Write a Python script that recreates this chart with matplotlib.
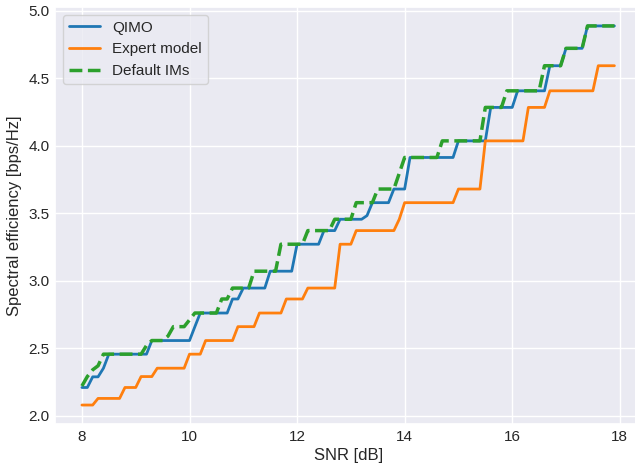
#spectral efficiency vs SNR plot

#imports
import numpy as np
import matplotlib
matplotlib.use("Agg")
import matplotlib.pyplot as plt
import seaborn as sns

#data (SNR grid of the simulation, 0.1 dB steps)
snr_db = np.round(np.arange(8.0, 18.0, 0.1), 1)

#one row per dB: x.0 ... x.9
qimo = [
    2.209, 2.209, 2.288, 2.288, 2.352, 2.456, 2.456, 2.456, 2.456, 2.456,
    2.456, 2.456, 2.456, 2.557, 2.557, 2.557, 2.557, 2.557, 2.557, 2.557,
    2.557, 2.660, 2.761, 2.761, 2.761, 2.761, 2.761, 2.761, 2.865, 2.865,
    2.946, 2.946, 2.946, 2.946, 2.946, 3.071, 3.071, 3.071, 3.071, 3.071,
    3.271, 3.271, 3.271, 3.271, 3.271, 3.372, 3.372, 3.372, 3.456, 3.456,
    3.456, 3.456, 3.456, 3.483, 3.579, 3.579, 3.579, 3.579, 3.680, 3.680,
    3.680, 3.914, 3.914, 3.914, 3.914, 3.914, 3.914, 3.914, 3.914, 3.914,
    4.037, 4.037, 4.037, 4.037, 4.037, 4.037, 4.285, 4.285, 4.285, 4.285,
    4.285, 4.408, 4.408, 4.408, 4.408, 4.408, 4.408, 4.594, 4.594, 4.594,
    4.723, 4.723, 4.723, 4.723, 4.889, 4.889, 4.889, 4.889, 4.889, 4.889,
]

expert = [
    2.079, 2.079, 2.079, 2.128, 2.128, 2.128, 2.128, 2.128, 2.209, 2.209,
    2.209, 2.290, 2.290, 2.290, 2.352, 2.352, 2.352, 2.352, 2.352, 2.352,
    2.456, 2.456, 2.456, 2.557, 2.557, 2.557, 2.557, 2.557, 2.557, 2.660,
    2.660, 2.660, 2.660, 2.761, 2.761, 2.761, 2.761, 2.761, 2.865, 2.865,
    2.865, 2.865, 2.946, 2.946, 2.946, 2.946, 2.946, 2.946, 3.271, 3.271,
    3.271, 3.372, 3.372, 3.372, 3.372, 3.372, 3.372, 3.372, 3.372, 3.456,
    3.579, 3.579, 3.579, 3.579, 3.579, 3.579, 3.579, 3.579, 3.579, 3.579,
    3.680, 3.680, 3.680, 3.680, 3.680, 4.037, 4.037, 4.037, 4.037, 4.037,
    4.037, 4.037, 4.037, 4.285, 4.285, 4.285, 4.285, 4.408, 4.408, 4.408,
    4.408, 4.408, 4.408, 4.408, 4.408, 4.408, 4.594, 4.594, 4.594, 4.594,
]

default_ims = [
    2.220, 2.290, 2.340, 2.370, 2.456, 2.456, 2.456, 2.456, 2.456, 2.456,
    2.456, 2.456, 2.520, 2.557, 2.557, 2.557, 2.590, 2.660, 2.660, 2.660,
    2.710, 2.761, 2.761, 2.761, 2.761, 2.761, 2.865, 2.865, 2.946, 2.946,
    2.946, 2.946, 3.071, 3.071, 3.071, 3.071, 3.071, 3.271, 3.271, 3.271,
    3.271, 3.271, 3.372, 3.372, 3.372, 3.372, 3.372, 3.456, 3.456, 3.456,
    3.456, 3.579, 3.579, 3.579, 3.579, 3.680, 3.680, 3.680, 3.680, 3.797,
    3.914, 3.914, 3.914, 3.914, 3.914, 3.914, 3.914, 4.037, 4.037, 4.037,
    4.037, 4.037, 4.037, 4.037, 4.037, 4.285, 4.285, 4.285, 4.285, 4.408,
    4.408, 4.408, 4.408, 4.408, 4.408, 4.408, 4.594, 4.594, 4.594, 4.594,
    4.723, 4.723, 4.723, 4.723, 4.889, 4.889, 4.889, 4.889, 4.889, 4.889,
]

#style
sns.set_theme(style="darkgrid")
plt.rcParams['font.family'] = ['Liberation Sans', 'DejaVu Sans']

fig = plt.figure(figsize=(6.35, 4.65), dpi=100)
#axes runs a bit past the right border, like in the original picture
ax = fig.add_axes([0.0871, 0.0882, 0.9224, 0.8968])

ax.plot(snr_db, qimo, color='tab:blue', linewidth=2, label='QIMO')
ax.plot(snr_db, expert, color='tab:orange', linewidth=2, label='Expert model')
ax.plot(snr_db, default_ims, color='tab:green', linewidth=2.5, linestyle='--', label='Default IMs')

ax.set_xticks([8, 10, 12, 14, 16, 18])
ax.set_yticks([2.0, 2.5, 3.0, 3.5, 4.0, 4.5, 5.0])
ax.tick_params(length=0, pad=4)
ax.set_xlabel('SNR [dB]', labelpad=3)
ax.set_ylabel('Spectral efficiency [bps/Hz]', labelpad=5)
ax.legend(loc='upper left')

fig.savefig('out.png', dpi=100)
